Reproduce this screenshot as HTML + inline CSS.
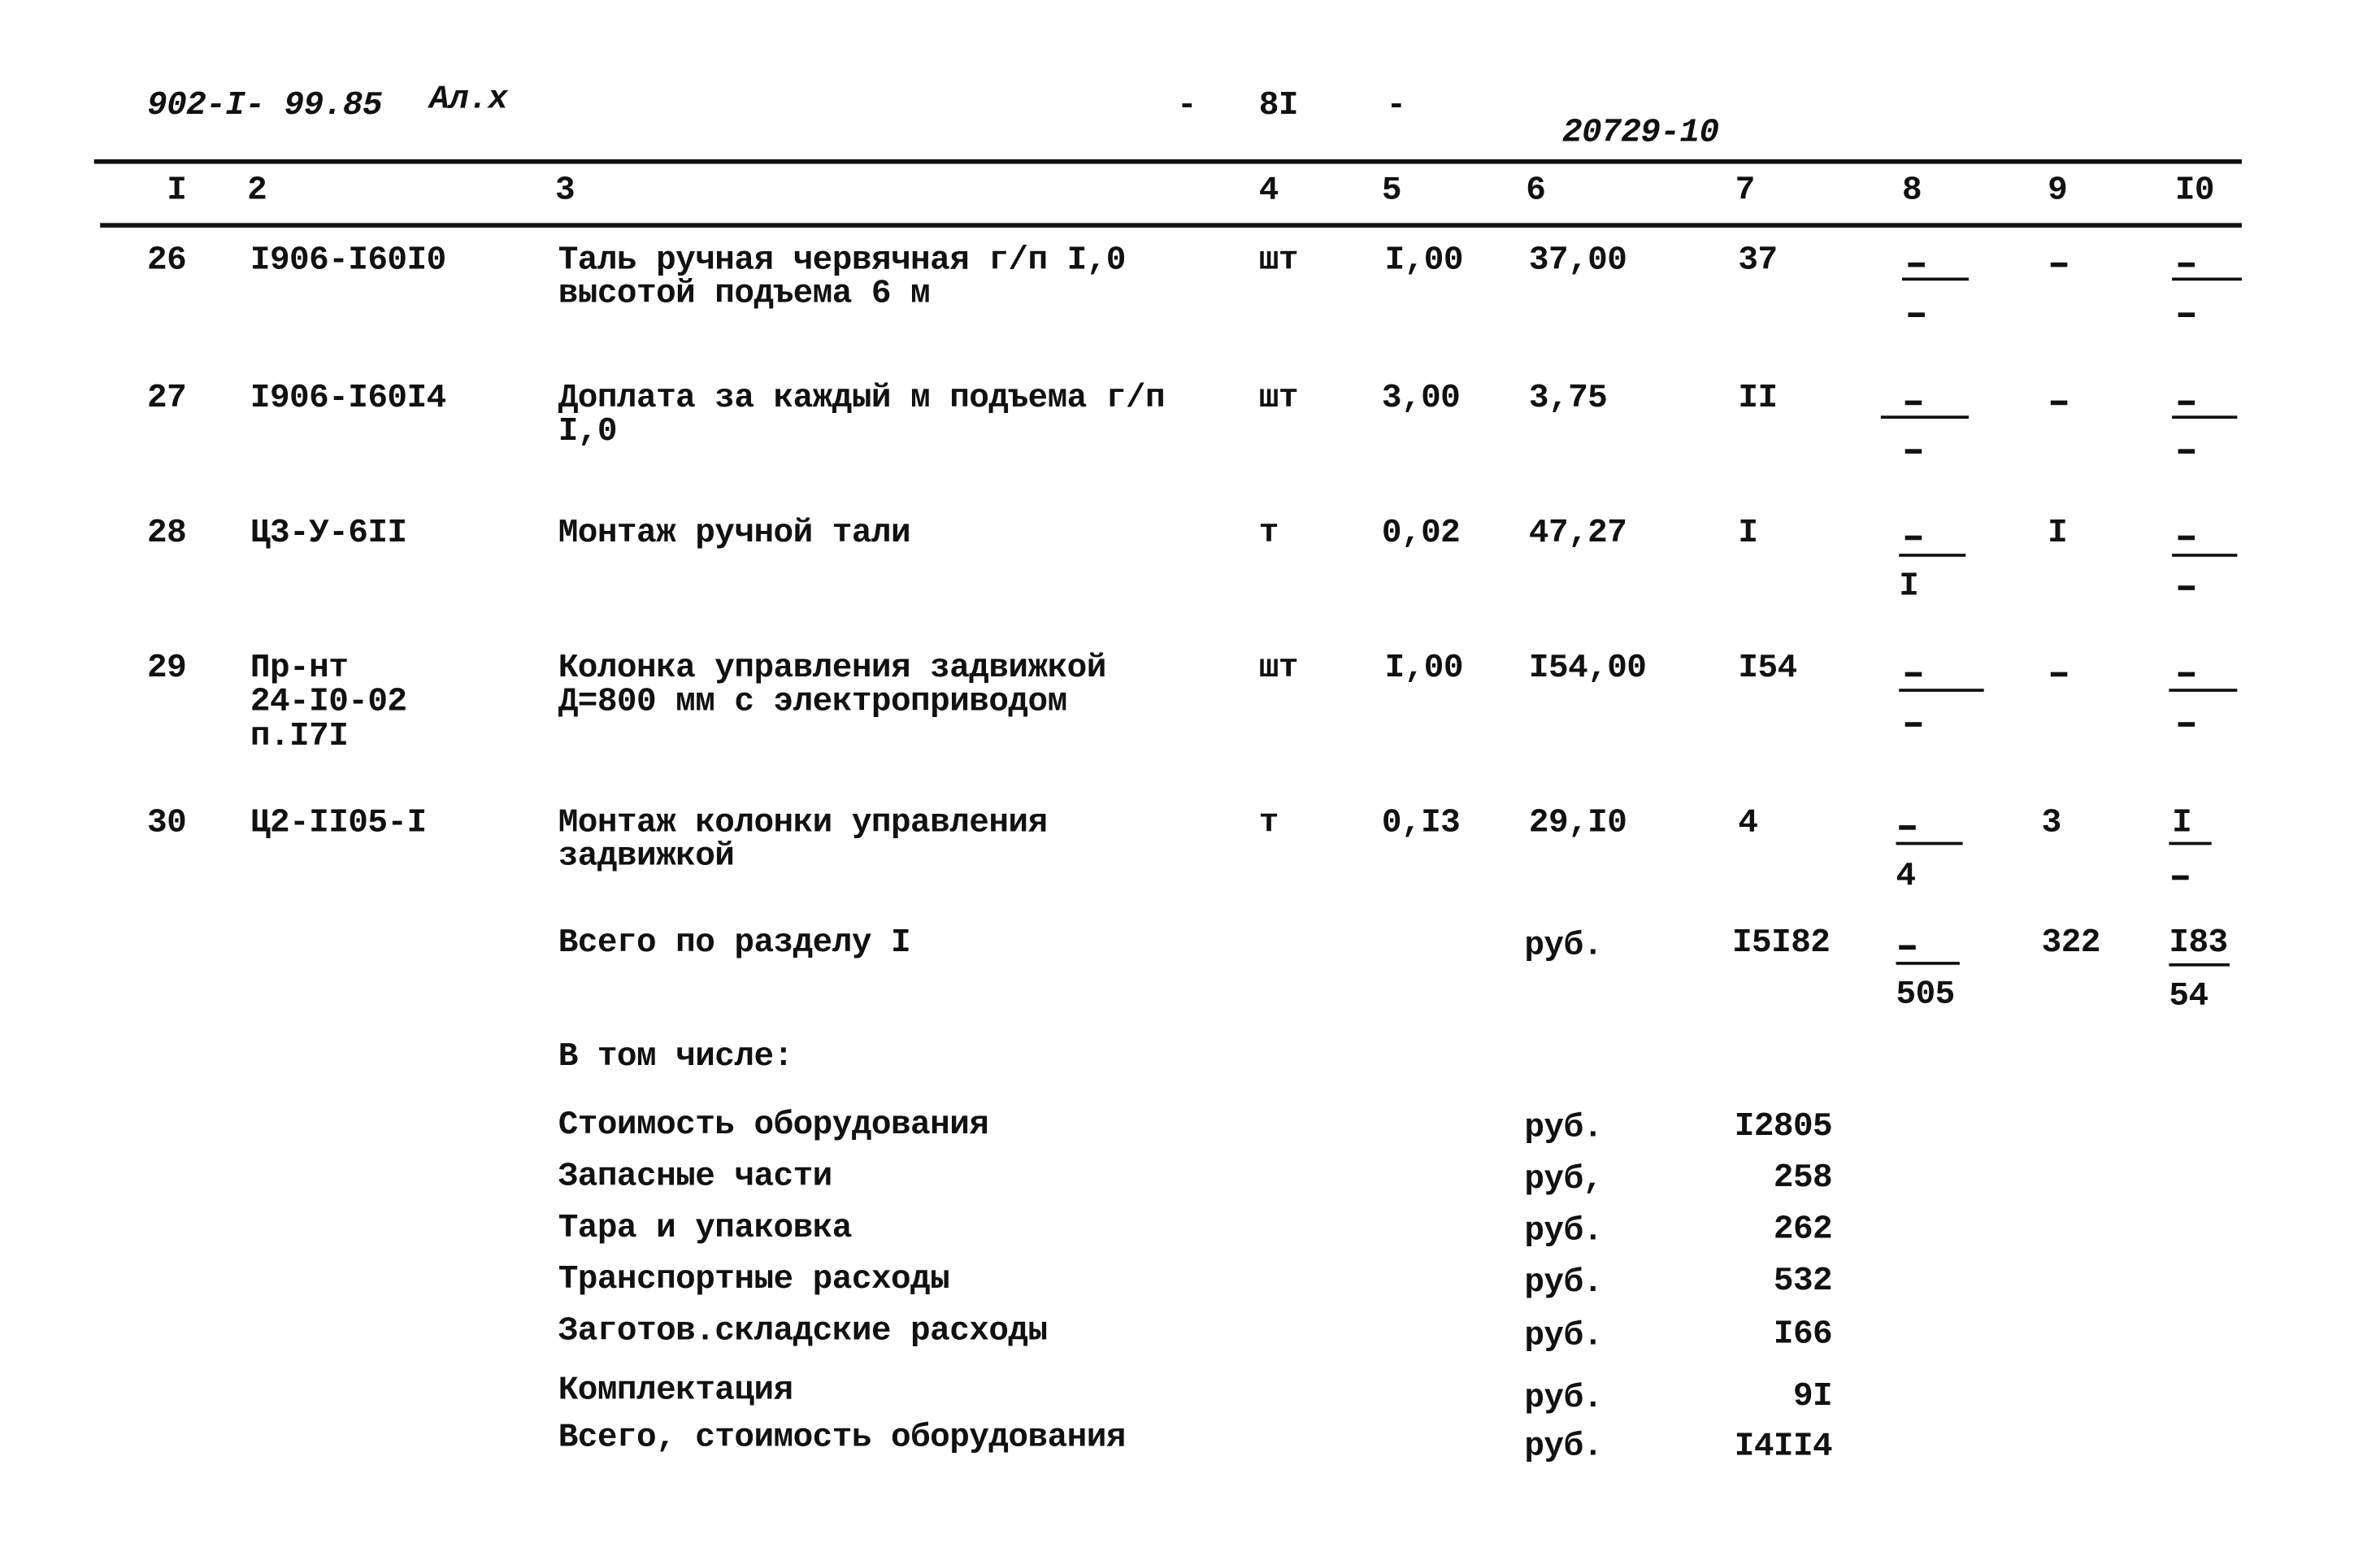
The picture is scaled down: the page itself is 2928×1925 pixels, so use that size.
<!DOCTYPE html>
<html><head><meta charset="utf-8">
<style>
html,body{margin:0;padding:0;background:#fff;}
#wrap{width:2928px;height:1925px;overflow:hidden;position:relative;background:#fff;}
#c{position:absolute;left:0;top:0;width:1570px;height:1032px;transform:scale(1.866);transform-origin:0 0;}
.t{position:absolute;font-family:"Liberation Mono","DejaVu Sans Mono",monospace;font-size:22px;font-weight:bold;line-height:24px;height:24px;white-space:pre;color:#111;letter-spacing:-0.3px;}
.r{text-align:right;}
.l{position:absolute;background:#111;height:2px;}
.d{position:absolute;background:#111;height:3px;width:11px;}
</style></head><body><div id="wrap"><div id="c">
<div class="t" style="left:97px;top:58px;font-style:italic">902-I- 99.85</div>
<div class="t" style="left:283px;top:54px;font-style:italic">Ал.х</div>
<div class="t" style="left:776px;top:58px">-</div>
<div class="t" style="left:830px;top:58px">8I</div>
<div class="t" style="left:914px;top:58px">-</div>
<div class="t" style="left:1030px;top:76px;font-style:italic">20729-10</div>
<div class="l" style="left:62px;top:105px;width:1416px;height:3px"></div>
<div class="t" style="left:110px;top:114px">I</div>
<div class="t" style="left:163px;top:114px">2</div>
<div class="t" style="left:366px;top:114px">3</div>
<div class="t" style="left:830px;top:114px">4</div>
<div class="t" style="left:911px;top:114px">5</div>
<div class="t" style="left:1006px;top:114px">6</div>
<div class="t" style="left:1144px;top:114px">7</div>
<div class="t" style="left:1254px;top:114px">8</div>
<div class="t" style="left:1350px;top:114px">9</div>
<div class="t" style="left:1434px;top:114px">I0</div>
<div class="l" style="left:66px;top:147px;width:1412px;height:3px"></div>

<div class="t" style="left:97px;top:160px">26</div>
<div class="t" style="left:165px;top:160px">I906-I60I0</div>
<div class="t" style="left:368px;top:160px">Таль ручная червячная г/п I,0</div>
<div class="t" style="left:368px;top:182px">высотой подъема 6 м</div>
<div class="t" style="left:830px;top:160px">шт</div>
<div class="t" style="left:913px;top:160px">I,00</div>
<div class="t" style="left:1008px;top:160px">37,00</div>
<div class="t" style="left:1146px;top:160px">37</div>
<div class="d" style="left:1258px;top:173px"></div><div class="l" style="left:1254px;top:183px;width:44px"></div><div class="d" style="left:1258px;top:206px"></div>
<div class="d" style="left:1352px;top:173px"></div>
<div class="d" style="left:1436px;top:173px"></div><div class="l" style="left:1432px;top:183px;width:46px"></div><div class="d" style="left:1436px;top:206px"></div>

<div class="t" style="left:97px;top:251px">27</div>
<div class="t" style="left:165px;top:251px">I906-I60I4</div>
<div class="t" style="left:368px;top:251px">Доплата за каждый м подъема г/п</div>
<div class="t" style="left:368px;top:273px">I,0</div>
<div class="t" style="left:830px;top:251px">шт</div>
<div class="t" style="left:911px;top:251px">3,00</div>
<div class="t" style="left:1008px;top:251px">3,75</div>
<div class="t" style="left:1146px;top:251px">II</div>
<div class="d" style="left:1256px;top:264px"></div><div class="l" style="left:1240px;top:274px;width:58px"></div><div class="d" style="left:1256px;top:296px"></div>
<div class="d" style="left:1352px;top:264px"></div>
<div class="d" style="left:1436px;top:264px"></div><div class="l" style="left:1432px;top:274px;width:43px"></div><div class="d" style="left:1436px;top:296px"></div>

<div class="t" style="left:97px;top:340px">28</div>
<div class="t" style="left:165px;top:340px">Ц3-У-6II</div>
<div class="t" style="left:368px;top:340px">Монтаж ручной тали</div>
<div class="t" style="left:830px;top:340px">т</div>
<div class="t" style="left:911px;top:340px">0,02</div>
<div class="t" style="left:1008px;top:340px">47,27</div>
<div class="t" style="left:1146px;top:340px">I</div>
<div class="d" style="left:1256px;top:353px"></div><div class="l" style="left:1252px;top:365px;width:44px"></div>
<div class="t" style="left:1252px;top:375px">I</div>
<div class="t" style="left:1350px;top:340px">I</div>
<div class="d" style="left:1436px;top:353px"></div><div class="l" style="left:1432px;top:365px;width:43px"></div><div class="d" style="left:1436px;top:386px"></div>

<div class="t" style="left:97px;top:429px">29</div>
<div class="t" style="left:165px;top:429px">Пр-нт</div>
<div class="t" style="left:165px;top:451px">24-I0-02</div>
<div class="t" style="left:165px;top:474px">п.I7I</div>
<div class="t" style="left:368px;top:429px">Колонка управления задвижкой</div>
<div class="t" style="left:368px;top:451px">Д=800 мм с электроприводом</div>
<div class="t" style="left:830px;top:429px">шт</div>
<div class="t" style="left:913px;top:429px">I,00</div>
<div class="t" style="left:1008px;top:429px">I54,00</div>
<div class="t" style="left:1146px;top:429px">I54</div>
<div class="d" style="left:1256px;top:443px"></div><div class="l" style="left:1252px;top:454px;width:56px"></div><div class="d" style="left:1256px;top:476px"></div>
<div class="d" style="left:1352px;top:443px"></div>
<div class="d" style="left:1436px;top:443px"></div><div class="l" style="left:1430px;top:454px;width:45px"></div><div class="d" style="left:1436px;top:476px"></div>

<div class="t" style="left:97px;top:531px">30</div>
<div class="t" style="left:165px;top:531px">Ц2-II05-I</div>
<div class="t" style="left:368px;top:531px">Монтаж колонки управления</div>
<div class="t" style="left:368px;top:553px">задвижкой</div>
<div class="t" style="left:830px;top:531px">т</div>
<div class="t" style="left:911px;top:531px">0,I3</div>
<div class="t" style="left:1008px;top:531px">29,I0</div>
<div class="t" style="left:1146px;top:531px">4</div>
<div class="d" style="left:1252px;top:544px"></div><div class="l" style="left:1250px;top:555px;width:44px"></div>
<div class="t" style="left:1250px;top:566px">4</div>
<div class="t" style="left:1346px;top:531px">3</div>
<div class="t" style="left:1432px;top:531px">I</div><div class="l" style="left:1430px;top:555px;width:28px"></div><div class="d" style="left:1432px;top:577px"></div>

<div class="t" style="left:368px;top:610px">Всего по разделу I</div>
<div class="t" style="left:1005px;top:612px">руб.</div>
<div class="t" style="left:1142px;top:610px">I5I82</div>
<div class="d" style="left:1252px;top:623px"></div><div class="l" style="left:1250px;top:634px;width:42px"></div>
<div class="t" style="left:1250px;top:644px">505</div>
<div class="t" style="left:1346px;top:610px">322</div>
<div class="t" style="left:1430px;top:610px">I83</div><div class="l" style="left:1430px;top:635px;width:40px"></div>
<div class="t" style="left:1430px;top:645px">54</div>

<div class="t" style="left:368px;top:685px">В том числе:</div>

<div class="t" style="left:368px;top:730px">Стоимость оборудования</div>
<div class="t" style="left:368px;top:764px">Запасные части</div>
<div class="t" style="left:368px;top:798px">Тара и упаковка</div>
<div class="t" style="left:368px;top:832px">Транспортные расходы</div>
<div class="t" style="left:368px;top:866px">Заготов.складские расходы</div>
<div class="t" style="left:368px;top:905px">Комплектация</div>
<div class="t" style="left:368px;top:936px">Всего, стоимость оборудования</div>

<div class="t" style="left:1005px;top:732px">руб.</div>
<div class="t" style="left:1005px;top:766px">руб,</div>
<div class="t" style="left:1005px;top:800px">руб.</div>
<div class="t" style="left:1005px;top:834px">руб.</div>
<div class="t" style="left:1005px;top:869px">руб.</div>
<div class="t" style="left:1005px;top:910px">руб.</div>
<div class="t" style="left:1005px;top:942px">руб.</div>

<div class="t r" style="left:1108px;width:100px;top:731px">I2805</div>
<div class="t r" style="left:1108px;width:100px;top:765px">258</div>
<div class="t r" style="left:1108px;width:100px;top:799px">262</div>
<div class="t r" style="left:1108px;width:100px;top:833px">532</div>
<div class="t r" style="left:1108px;width:100px;top:868px">I66</div>
<div class="t r" style="left:1108px;width:100px;top:909px">9I</div>
<div class="t r" style="left:1108px;width:100px;top:942px">I4II4</div>
</div></div></body></html>
